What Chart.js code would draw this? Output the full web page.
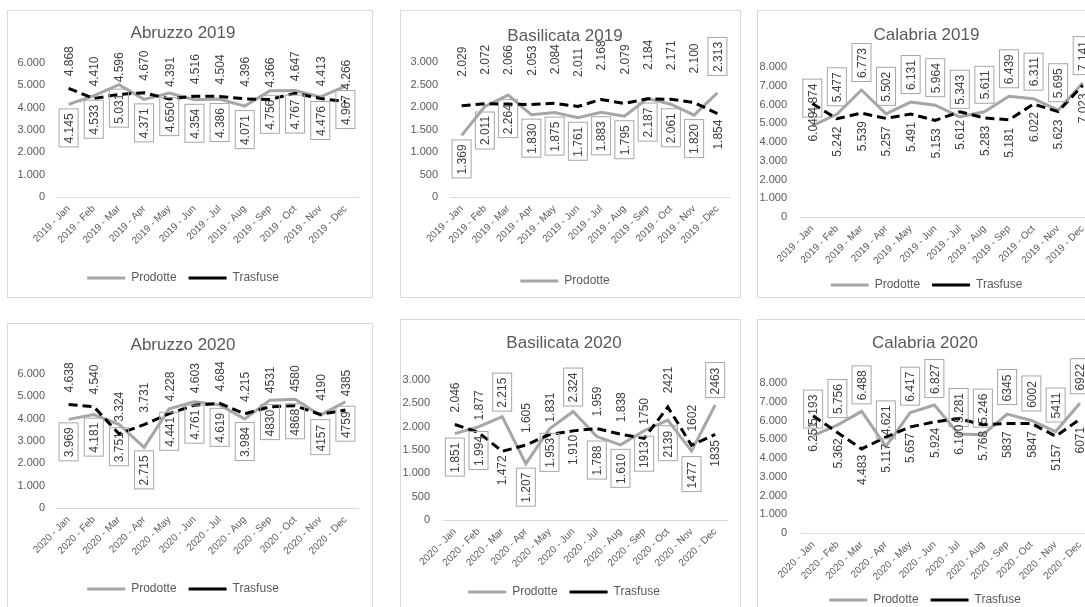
<!DOCTYPE html>
<html>
<head>
<meta charset="utf-8">
<script src="https://cdn.jsdelivr.net/npm/chart.js@4.4.1/dist/chart.umd.min.js"></script>
<style>
html,body{margin:0;padding:0;background:#fff;overflow:hidden;width:1085px;height:607px;position:relative;}
.panel{position:absolute;border:1px solid #d9d9d9;box-sizing:border-box;background:#fff;overflow:visible;}
canvas{display:block;position:absolute;left:0;top:0;}
</style>
</head>
<body>
<script>
// ---------- DATA ----------
const months = ['Jan','Feb','Mar','Apr','May','Jun','Jul','Aug','Sep','Oct','Nov','Dec'];
const seriesNames = ['Prodotte','Trasfuse'];

const abruzzo2019Prodotte   = [4145, 4533, 5031, 4371, 4650, 4354, 4386, 4071, 4756, 4767, 4476, 4967];
const abruzzo2019Trasfuse   = [4868, 4410, 4596, 4670, 4391, 4516, 4504, 4396, 4366, 4647, 4413, 4266];
const basilicata2019Prodotte = [1369, 2011, 2264, 1830, 1875, 1761, 1883, 1795, 2187, 2061, 1820, 2313];
const basilicata2019Trasfuse = [2029, 2072, 2066, 2053, 2084, 2011, 2168, 2079, 2184, 2171, 2100, 1854];
const calabria2019Prodotte  = [4874, 5477, 6773, 5502, 6131, 5964, 5343, 5611, 6439, 6311, 5695, 7141];
const calabria2019Trasfuse  = [6049, 5242, 5539, 5257, 5491, 5153, 5612, 5283, 5181, 6022, 5623, 7023];
const abruzzo2020Prodotte   = [3969, 4181, 3751, 2715, 4441, 4761, 4619, 3984, 4830, 4868, 4157, 4759];
const abruzzo2020Trasfuse   = [4638, 4540, 3324, 3731, 4228, 4603, 4684, 4215, 4531, 4580, 4190, 4385];
const basilicata2020Prodotte = [1851, 1994, 2215, 1207, 1953, 2324, 1788, 1610, 1913, 2139, 1477, 2463];
const basilicata2020Trasfuse = [2046, 1877, 1472, 1605, 1831, 1910, 1959, 1838, 1750, 2421, 1602, 1835];
const calabria2020Prodotte  = [5193, 5756, 6488, 4621, 6417, 6827, 5281, 5246, 6345, 6002, 5411, 6922];
const calabria2020Trasfuse  = [6251, 5362, 4483, 5117, 5657, 5924, 6100, 5768, 5837, 5847, 5157, 6071];

// value labels from this month index on are written without thousands separator
const plainLabelFrom = {2019: 12, 2020: 8};

// ---------- HELPERS ----------
function fmtDots(v){ return String(v).replace(/\B(?=(\d{3})+(?!\d))/g, '.'); }

Chart.defaults.font.family = '"Liberation Sans", Arial, sans-serif';
Chart.defaults.color = '#595959';

const valueLabelPlugin = {
  id: 'valueLabels',
  afterDatasetsDraw(chart) {
    const ctx = chart.ctx;
    chart.data.datasets.forEach((ds, di) => {
      const meta = chart.getDatasetMeta(di);
      if (!ds.vl) return;
      meta.data.forEach((pt, i) => {
        const v = ds.data[i];
        const text = i >= ds.vl.plainFrom ? String(v) : fmtDots(v);
        const above = ds.vl.pos[i] === 'a';
        const off = above ? ds.vl.offA : ds.vl.offB;
        const cy = above ? pt.y - off : pt.y + off;
        ctx.save();
        ctx.translate(pt.x, cy);
        ctx.rotate(-Math.PI / 2);
        ctx.font = '12px "Liberation Sans", Arial, sans-serif';
        ctx.textAlign = 'center';
        ctx.textBaseline = 'middle';
        ctx.fillStyle = '#404040';
        ctx.fillText(text, 0, 1);
        if (ds.vl.boxed) {
          const w = ctx.measureText(text).width;
          ctx.strokeStyle = '#a6a6a6';
          ctx.lineWidth = 1;
          ctx.strokeRect(Math.round(-w / 2 - 4) + 0.5, -9.5, Math.round(w + 8), 19);
        }
        ctx.restore();
      });
    });
  }
};

// ---------- PANELS (layout in page pixels) ----------
const panels = [
  {title:'Abruzzo 2019', year:2019, prod:abruzzo2019Prodotte, tras:abruzzo2019Trasfuse, yMax:6000, yStep:1000,
   box:[7,10,372,297], plot:[56,63,358,197], titleY:33, legendY:278, tickRight:45,
   prodPos:'bbbbbbbbbbbb', trasPos:'aaaaaaaaaaaa', prodOff:[25,24], trasOff:[27,22], legend:['Prodotte','Trasfuse']},
  {title:'Basilicata 2019', year:2019, prod:basilicata2019Prodotte, tras:basilicata2019Trasfuse, yMax:3000, yStep:500,
   box:[400,10,740,297], plot:[450,62,729,197], titleY:36, legendY:281, tickRight:438,
   prodPos:'bbbbbbbbbbba', trasPos:'aaaaaaaaaaab', prodOff:[36,24], trasOff:[44,21], legend:['Prodotte']},
  {title:'Calabria 2019', year:2019, prod:calabria2019Prodotte, tras:calabria2019Trasfuse, yMax:8000, yStep:1000,
   box:[757,10,1110,297], plot:[800,67,1095,217], titleY:35, legendY:285, tickRight:787,
   prodPos:'aaaaaaaaaaaa', trasPos:'bbbbbbbbbbbb', prodOff:[27,24], trasOff:[27,23], legend:['Prodotte','Trasfuse']},
  {title:'Abruzzo 2020', year:2020, prod:abruzzo2020Prodotte, tras:abruzzo2020Trasfuse, yMax:6000, yStep:1000,
   box:[7,323,372,620], plot:[56,374,358,508], titleY:345, legendY:589, tickRight:45,
   prodPos:'bbbbbbbbbbbb', trasPos:'aaaaaaaaaaaa', prodOff:[25,23], trasOff:[27,22], legend:['Prodotte','Trasfuse']},
  {title:'Basilicata 2020', year:2020, prod:basilicata2020Prodotte, tras:basilicata2020Trasfuse, yMax:3000, yStep:500,
   box:[400,319,740,620], plot:[443,380,727,520], titleY:343, legendY:592, tickRight:430,
   prodPos:'bbabbabbbbba', trasPos:'aabaabaaaaab', prodOff:[24,24], trasOff:[27,19], legend:['Prodotte','Trasfuse']},
  {title:'Calabria 2020', year:2020, prod:calabria2020Prodotte, tras:calabria2020Trasfuse, yMax:8000, yStep:1000,
   box:[757,319,1110,620], plot:[801,383,1092,533], titleY:343, legendY:600, tickRight:787,
   prodPos:'aaaaaaaaaaaa', trasPos:'bbbbbbbbbbbb', prodOff:[26,24], trasOff:[26,21], legend:['Prodotte','Trasfuse']}
];

const TITLE_SIZE = 17, TITLE_LH = TITLE_SIZE * 1.2;
const LEG_FONT = 12, LEG_PAD = 12;

panels.forEach((p) => {
  const [x0, y0, x1, y1] = p.box;
  const div = document.createElement('div');
  div.className = 'panel';
  Object.assign(div.style, {left: x0 + 'px', top: y0 + 'px', width: (x1 - x0 + 1) + 'px', height: (y1 - y0 + 1) + 'px'});
  const cl = x0 + 1, ct = y0 + 1, cw = x1 - x0 - 1, ch = y1 - y0 - 1 + 20;
  const cv = document.createElement('canvas');
  cv.width = cw; cv.height = ch;
  cv.style.width = cw + 'px'; cv.style.height = ch + 'px';
  div.appendChild(cv);
  document.body.appendChild(div);

  const plotL = p.plot[0] - cl, plotT = p.plot[1] - ct, plotR = p.plot[2] - cl, plotB = p.plot[3] - ct;
  const titleY = p.titleY - ct, legendY = p.legendY - ct;
  const legendTop = legendY - LEG_PAD - LEG_FONT / 2;
  const legendH = LEG_FONT + LEG_PAD + 10;
  const padBottom = ch - legendTop - legendH;
  const labels = months.map(m => p.year + ' - ' + m);
  const plainFrom = plainLabelFrom[p.year];

  new Chart(cv, {
    type: 'line',
    data: {
      labels: labels,
      datasets: [
        {label: seriesNames[0], data: p.prod, borderColor: '#a6a6a6', backgroundColor: '#a6a6a6',
         borderWidth: 3, pointRadius: 0, tension: 0, order: 1,
         vl: {pos: p.prodPos, boxed: true, offA: p.prodOff[0], offB: p.prodOff[1], plainFrom: plainFrom}},
        {label: seriesNames[1], data: p.tras, borderColor: '#000000', backgroundColor: '#000000',
         borderWidth: 3, borderDash: [9, 5], pointRadius: 0, tension: 0, order: 0,
         vl: {pos: p.trasPos, boxed: false, offA: p.trasOff[0], offB: p.trasOff[1], plainFrom: plainFrom}}
      ]
    },
    options: {
      responsive: false,
      animation: false,
      devicePixelRatio: 1,
      layout: {padding: {left: 0, top: 0, right: cw - plotR, bottom: padBottom}},
      plugins: {
        tooltip: {enabled: false},
        title: {
          display: true, text: p.title, color: '#595959',
          font: {size: TITLE_SIZE, weight: 'normal', lineHeight: 1.2},
          padding: {top: titleY - TITLE_LH / 2, bottom: plotT - titleY - TITLE_LH / 2}
        },
        legend: {
          display: true, position: 'bottom',
          labels: {
            usePointStyle: true, pointStyle: 'line', pointStyleWidth: 38,
            padding: LEG_PAD, color: '#595959', font: {size: LEG_FONT},
            filter: (item) => p.legend.includes(item.text),
            sort: (a, b) => a.datasetIndex - b.datasetIndex
          }
        }
      },
      scales: {
        x: {
          offset: true,
          grid: {display: false, drawTicks: false},
          border: {display: true, color: '#d9d9d9', width: 1},
          ticks: {autoSkip: false, minRotation: 45, maxRotation: 45, padding: 6, color: '#595959', font: {size: 10}},
          afterFit: (s) => { s.height = legendTop - plotB; }
        },
        y: {
          min: 0, max: p.yMax,
          grid: {display: false, drawTicks: false},
          border: {display: false},
          ticks: {stepSize: p.yStep, padding: p.plot[0] - p.tickRight, color: '#595959', font: {size: 11},
                  callback: (v) => fmtDots(v)},
          afterFit: (s) => { s.width = plotL; }
        }
      }
    },
    plugins: [valueLabelPlugin]
  });
});
</script>
</body>
</html>
